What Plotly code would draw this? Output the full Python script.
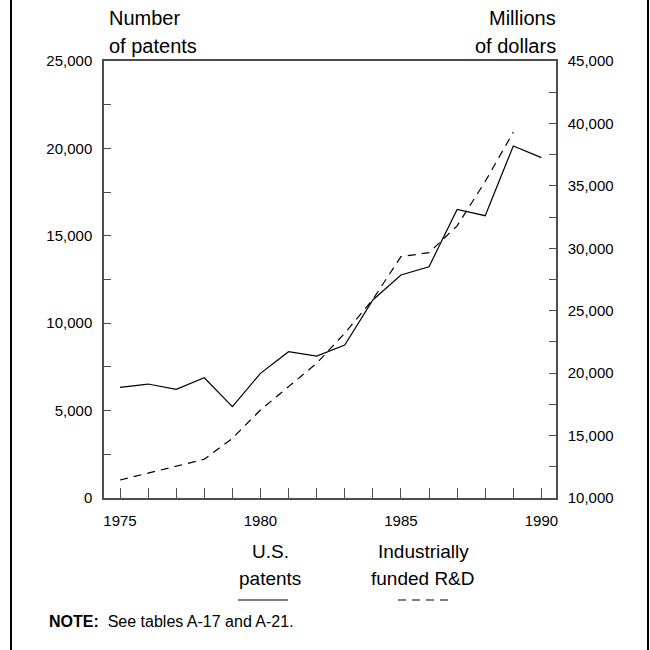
import plotly.graph_objects as go

# Annual series, 1975-1990
years = list(range(1975, 1991))
us_patents = [6330, 6520, 6220, 6880, 5230, 7130, 8370, 8120, 8750,
              11330, 12760, 13230, 16510, 16150, 20140, 19470]
industry_rd = [11440, 11980, 12510, 13100, 14780, 17050, 18920, 20790, 23200,
               25900, 29330, 29650, 31800, 35350, 39300]
rd_years = years[:len(industry_rd)]

left_ticks = [0, 5000, 10000, 15000, 20000, 25000]
right_ticks = [10000, 15000, 20000, 25000, 30000, 35000, 40000, 45000]
year_labels = [1975, 1980, 1985, 1990]

FONT = "Liberation Sans, Arial, sans-serif"
W, H = 650, 650
L, R, T, B = 104, 556, 61, 498  # plot area in pixels


def px(x):
    return (x - L) / (R - L)


def py(y):
    return (B - y) / (B - T)


fig = go.Figure()

fig.add_trace(go.Scatter(
    x=years, y=us_patents, mode="lines",
    line=dict(color="black", width=1.2), yaxis="y", showlegend=False,
))
fig.add_trace(go.Scatter(
    x=rd_years, y=industry_rd, mode="lines",
    line=dict(color="black", width=1.2, dash="8px,6px"), yaxis="y2", showlegend=False,
))

axis_col = "#4d4d4d"
minor_left = list(range(0, 25001, 2500))
minor_right = list(range(10000, 45001, 2500))

fig.update_layout(
    width=W, height=H,
    margin=dict(l=L, r=W - R, t=T, b=H - B),
    plot_bgcolor="white", paper_bgcolor="white",
    font=dict(family=FONT, color="black", size=15),
    xaxis=dict(
        range=[1974.43, 1990.52],
        tickvals=years,
        ticktext=[str(y) if y in year_labels else "" for y in years],
        ticks="inside", ticklen=10, tickwidth=1, tickcolor=axis_col,
        showline=True, linecolor=axis_col, linewidth=1.5, mirror=True,
        showgrid=False, zeroline=False, ticklabelstandoff=8,
        tickfont=dict(size=15),
    ),
    yaxis=dict(
        range=[0, 25000],
        tickvals=minor_left,
        ticktext=[f"{v:,}" if v in left_ticks else "" for v in minor_left],
        ticks="inside", ticklen=7, tickwidth=1, tickcolor=axis_col,
        showline=True, linecolor=axis_col, linewidth=1.5,
        showgrid=False, zeroline=False, ticklabelstandoff=7,
        tickfont=dict(size=15),
    ),
    yaxis2=dict(
        range=[10000, 45000], overlaying="y", side="right",
        tickvals=minor_right,
        ticktext=[f"{v:,}" if v in right_ticks else "" for v in minor_right],
        ticks="inside", ticklen=7, tickwidth=1, tickcolor=axis_col,
        showline=True, linecolor=axis_col, linewidth=1.5,
        showgrid=False, zeroline=False, ticklabelstandoff=7,
        tickfont=dict(size=15),
    ),
)

ann = []


def text_line(x, y, s, anchor, size=19):
    ann.append(dict(x=px(x), y=py(y), xanchor=anchor, yanchor="middle",
                    text=s, font=dict(size=size)))


text_line(107, 18, "Number", "left", size=20)
text_line(107, 46, "of patents", "left", size=20)
text_line(558, 18, "Millions", "right", size=20)
text_line(558, 46, "of dollars", "right", size=20)
text_line(270, 551, "U.S.", "center")
text_line(270, 578, "patents", "center")
text_line(423, 551, "Industrially", "center")
text_line(423, 578, "funded R&D", "center")
text_line(47, 621, "<b>NOTE:</b>  See tables A-17 and A-21.", "left", size=16)

for a in ann:
    a.update(xref="paper", yref="paper", showarrow=False)
fig.update_layout(annotations=ann)

shapes = [
    # legend keys
    dict(type="line", x0=px(238), x1=px(288), y0=py(600), y1=py(600),
         line=dict(color="black", width=1.2)),
    dict(type="line", x0=px(398), x1=px(450), y0=py(600), y1=py(600),
         line=dict(color="black", width=1.2, dash="8px,6px")),
    # page frame sides
    dict(type="line", x0=px(11), x1=px(11), y0=py(0), y1=py(650),
         line=dict(color="black", width=2)),
    dict(type="line", x0=px(648), x1=px(648), y0=py(0), y1=py(650),
         line=dict(color="black", width=2)),
]
for s in shapes:
    s.update(xref="paper", yref="paper")
fig.update_layout(shapes=shapes)

fig.write_html("out.html")
